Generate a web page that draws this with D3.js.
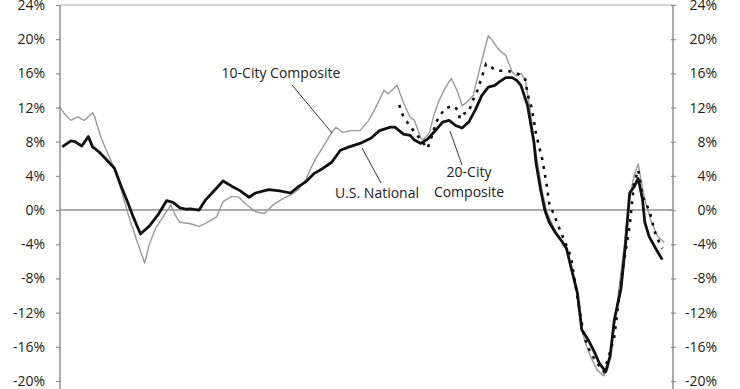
<!DOCTYPE html>
<html>
<head>
<meta charset="utf-8">
<script src="https://cdn.jsdelivr.net/npm/d3@7"></script>
<style>
  html, body { margin: 0; padding: 0; background: #fff; }
  #chart svg text { font-family: "Open Sans", sans-serif; }
</style>
</head>
<body>
<div id="chart"></div>
<script>
// Y axis ticks (percent)
const yTicks = [-20, -16, -12, -8, -4, 0, 4, 8, 12, 16, 20, 24];

// U.S. National (year-over-year %)
const natMonths = ['1988-02','1988-06','1988-08','1988-11','1989-02','1989-04','1989-07','1989-10',
  '1990-02','1990-05','1990-08','1990-11','1991-02','1991-06','1991-10','1992-02','1992-05','1992-08',
  '1992-11','1993-01','1993-05','1993-08','1993-12','1994-04','1994-08','1994-12','1995-04','1995-07',
  '1996-01','1996-06','1996-11','1997-03','1997-06','1997-10','1998-02','1998-06','1998-10','1999-02',
  '1999-07','1999-12','2000-04','2000-09','2000-11','2001-03','2001-06','2001-08','2001-11','2002-02',
  '2002-05','2002-09','2002-12','2003-03','2003-06','2003-09','2003-12','2004-03','2004-06','2004-09',
  '2004-11','2005-02','2005-05','2005-07','2005-09','2005-12','2006-03','2006-04','2006-06','2006-08',
  '2006-10','2007-01','2007-04','2007-06','2007-08','2007-11','2008-01','2008-04','2008-07','2008-09',
  '2008-12','2009-02','2009-04','2009-07','2009-09','2009-11','2010-01','2010-03','2010-05','2010-06',
  '2010-08','2010-11','2011-02'];
const natValues = [7.4, 8.1, 8.0, 7.5, 8.6, 7.4, 6.8, 6.0,
  4.9, 2.9, 1.0, -1.0, -2.8, -1.9, -0.6, 1.1, 0.9, 0.3,
  0.1, 0.15, 0.0, 1.2, 2.3, 3.4, 2.8, 2.25, 1.5, 2.0,
  2.4, 2.25, 2.0, 2.8, 3.3, 4.3, 4.9, 5.6, 7.0, 7.4,
  7.8, 8.4, 9.3, 9.7, 9.7, 8.9, 8.75, 8.2, 7.8, 8.3,
  9.1, 10.3, 10.5, 9.9, 9.6, 10.3, 11.7, 13.4, 14.4, 14.6,
  15.0, 15.5, 15.5, 15.2, 14.6, 12.3, 8.0, 5.5, 2.5, 0.0,
  -1.4, -2.7, -3.7, -4.5, -6.6, -9.7, -14.0, -15.2, -16.7, -17.9,
  -18.9, -17.1, -12.8, -9.3, -4.3, 2.0, 2.7, 3.7, 1.2, -1.4,
  -3.1, -4.5, -5.8];

// 10-City Composite
const tenMonths = ['1988-01','1988-03','1988-06','1988-09','1988-12','1989-01','1989-04','1989-05',
  '1989-08','1989-11','1990-02','1990-05','1990-08','1990-12','1991-04','1991-06','1991-09','1992-01',
  '1992-04','1992-06','1992-08','1993-01','1993-05','1993-08','1994-01','1994-04','1994-08','1994-11',
  '1995-03','1995-07','1995-11','1996-03','1996-08','1996-12','1997-03','1997-06','1997-08','1997-11',
  '1998-02','1998-06','1998-08','1998-11','1999-03','1999-07','1999-11','2000-02','2000-06','2000-08',
  '2000-12','2001-03','2001-06','2001-08','2001-11','2001-12','2002-03','2002-05','2002-07','2002-10',
  '2003-01','2003-04','2003-06','2003-08','2003-11','2004-02','2004-04','2004-06','2004-08','2004-11',
  '2005-02','2005-05','2005-07','2005-09','2005-11','2006-01','2006-03','2006-05','2006-07','2006-09',
  '2006-11','2007-01','2007-04','2007-06','2007-08','2007-11','2008-01','2008-03','2008-05','2008-08',
  '2008-11','2009-01','2009-03','2009-05','2009-07','2009-09','2009-11','2010-01','2010-03','2010-05',
  '2010-06','2010-09','2010-12','2011-03'];
const tenValues = [12.05, 11.3, 10.5, 10.9, 10.5, 10.7, 11.4, 10.9,
  8.4, 6.6, 4.9, 2.5, -0.2, -3.3, -6.2, -4.1, -2.1, -0.6,
  0.6, -0.6, -1.4, -1.6, -1.9, -1.55, -0.8, 1.0, 1.6, 1.55,
  0.6, -0.2, -0.4, 0.6, 1.4, 1.9, 2.5, 3.5, 4.7, 6.2,
  7.4, 9.1, 9.7, 9.1, 9.3, 9.3, 10.5, 11.9, 14.0, 13.6,
  14.6, 12.6, 10.9, 10.5, 8.4, 8.2, 9.1, 11.1, 12.6, 14.2,
  15.4, 13.8, 12.2, 12.6, 13.4, 16.5, 18.5, 20.4, 19.8, 18.7,
  18.1, 16.2, 15.7, 16.0, 15.2, 12.1, 8.4, 5.0, 2.0, -0.3,
  -1.4, -2.5, -3.7, -4.6, -6.8, -10.0, -14.0, -15.8, -17.1, -18.7,
  -19.4, -18.5, -15.5, -11.5, -7.5, -3.0, 1.5, 4.0, 5.4, 2.5,
  1.2, -1.4, -3.1, -3.8];

// 20-City Composite
const twentyMonths = ['2001-01','2001-03','2001-07','2001-11','2002-02','2002-04','2002-06','2002-10',
  '2003-02','2003-04','2003-05','2003-07','2003-09','2003-11','2004-01','2004-05','2004-10','2005-03',
  '2005-08','2005-11','2005-12','2006-02','2006-04','2006-07','2006-09','2006-10','2006-12','2007-03',
  '2007-08','2007-10','2007-12','2008-02','2008-05','2008-10','2008-11','2009-01','2009-04','2009-06',
  '2009-08','2009-11','2010-01','2010-03','2010-05','2010-08','2010-11','2011-02'];
const twentyValues = [12.3, 10.9, 9.5, 8.2, 7.2, 8.6, 10.3, 11.9,
  12.2, 11.7, 10.7, 11.3, 11.5, 12.9, 14.0, 17.1, 16.3, 16.3,
  15.9, 15.3, 13.6, 11.9, 8.9, 5.8, 2.7, 0.8, -0.4, -2.3,
  -5.4, -8.6, -11.7, -14.8, -16.7, -18.6, -18.9, -17.5, -14.8, -10.5,
  -6.6, -1.9, 3.1, 4.7, 1.6, 0.0, -2.9, -4.5];

const W = 740, H = 389;
const parseMonth = d3.timeParse('%Y-%m');

const svg = d3.select('#chart')
  .append('svg')
  .attr('width', W)
  .attr('height', H);

const x = d3.scaleTime()
  .domain([new Date(1988, 0, 1), new Date(2011, 6, 1)])
  .range([60, 673]);

const y = d3.scaleLinear()
  .domain([-20, 24])
  .range([381, 5]);

const fmt = d => d + '%';
const axisColor = '#8f8f8f';

// frame: top border and 0% line
svg.append('line')
  .attr('x1', x.range()[0]).attr('x2', x.range()[1])
  .attr('y1', y(24)).attr('y2', y(24))
  .style('stroke', '#a8a8a8').style('stroke-width', 1.2);

svg.append('line')
  .attr('x1', x.range()[0]).attr('x2', x.range()[1])
  .attr('y1', y(0)).attr('y2', y(0))
  .style('stroke', axisColor).style('stroke-width', 1.5);

// left axis
const leftAxis = svg.append('g')
  .attr('transform', `translate(${x.range()[0]},0)`)
  .call(d3.axisLeft(y).tickValues(yTicks).tickSize(4).tickPadding(11).tickFormat(fmt));

// right axis (labels right-aligned)
const rightAxis = svg.append('g')
  .attr('transform', `translate(${x.range()[1]},0)`)
  .call(d3.axisRight(y).tickValues(yTicks).tickSize(4).tickPadding(0).tickFormat(fmt));

rightAxis.selectAll('.tick line').attr('x1', -2).attr('x2', 3);
rightAxis.selectAll('.tick text')
  .attr('x', 44)
  .style('text-anchor', 'end');

[leftAxis, rightAxis].forEach(g => {
  g.select('.domain').remove();
  g.selectAll('.tick line').style('stroke', axisColor).style('stroke-width', 1.2);
  g.selectAll('.tick text')
    .style('font-family', '"Open Sans", sans-serif')
    .style('font-size', '14px')
    .style('fill', '#222');
  g.append('line')
    .attr('x1', 0).attr('x2', 0)
    .attr('y1', y(24)).attr('y2', H)
    .style('stroke', axisColor).style('stroke-width', 1.5);
});

// series
const toPoints = (months, values) => months.map((m, i) => ({ date: parseMonth(m), value: values[i] }));

const line = d3.line()
  .x(d => x(d.date))
  .y(d => y(d.value));

svg.append('path')
  .datum(toPoints(tenMonths, tenValues))
  .attr('d', line)
  .style('fill', 'none')
  .style('stroke', '#9a9a9a')
  .style('stroke-width', 1.4)
  .style('stroke-linejoin', 'round');

svg.append('path')
  .datum(toPoints(twentyMonths, twentyValues))
  .attr('d', line)
  .style('fill', 'none')
  .style('stroke', '#111')
  .style('stroke-width', 2.6)
  .style('stroke-dasharray', '3,6');

svg.append('path')
  .datum(toPoints(natMonths, natValues))
  .attr('d', line)
  .style('fill', 'none')
  .style('stroke', '#111')
  .style('stroke-width', 2.8)
  .style('stroke-linejoin', 'round');

// annotations
const notes = svg.append('g')
  .style('font-family', '"Open Sans", sans-serif')
  .style('font-size', '14px')
  .style('fill', '#222');

const leaders = [
  [292, 85, 332, 133],
  [362, 148, 381, 183],
  [450, 131, 462, 165]
];
svg.selectAll('.leader')
  .data(leaders)
  .enter()
  .append('line')
  .attr('class', 'leader')
  .attr('x1', d => d[0]).attr('y1', d => d[1])
  .attr('x2', d => d[2]).attr('y2', d => d[3])
  .style('stroke', '#333')
  .style('stroke-width', 1);

notes.append('text').attr('x', 281).attr('y', 78).attr('text-anchor', 'middle').text('10-City Composite');
notes.append('text').attr('x', 377).attr('y', 198).attr('text-anchor', 'middle').text('U.S. National');
notes.append('text').attr('x', 469).attr('y', 177).attr('text-anchor', 'middle').text('20-City');
notes.append('text').attr('x', 469).attr('y', 197).attr('text-anchor', 'middle').text('Composite');
</script>
</body>
</html>
